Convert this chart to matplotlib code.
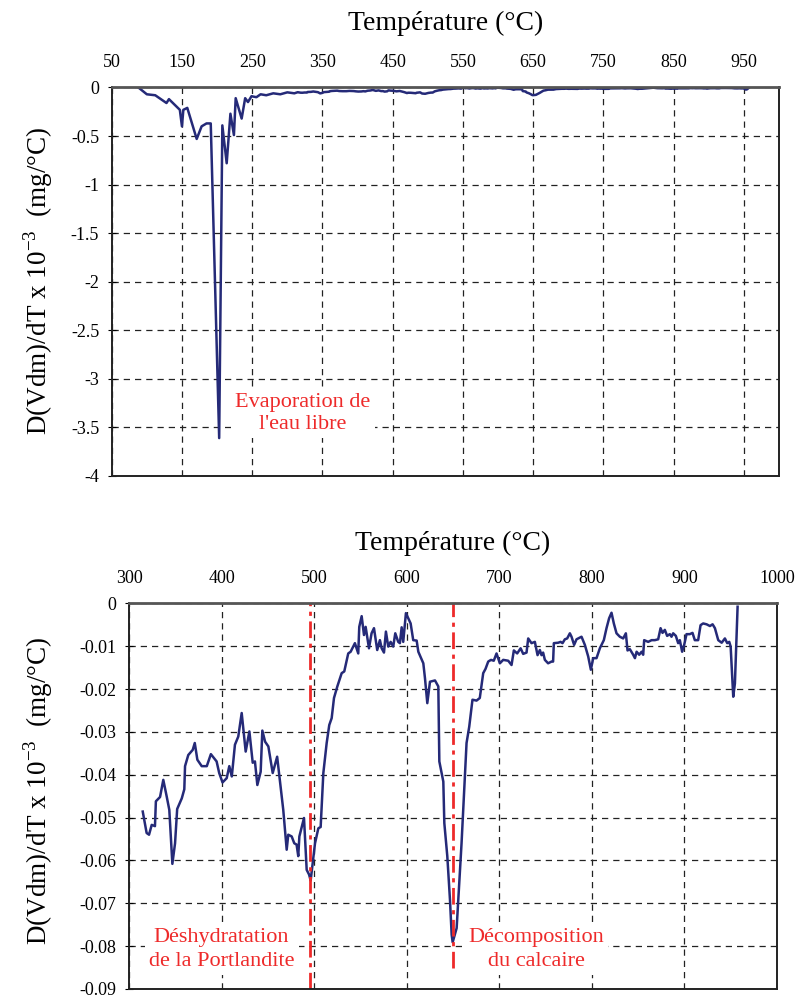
import matplotlib
matplotlib.use("Agg")
import matplotlib.pyplot as plt

plt.rcParams['font.family'] = ['Liberation Serif', 'DejaVu Serif']
plt.rcParams['mathtext.fontset'] = 'custom'
plt.rcParams['mathtext.rm'] = 'Liberation Serif'

# low temperature part
t_low = [88, 100, 112, 128, 131.5, 147, 150, 152, 157.6, 171, 178, 185, 191, 203,
         207.5, 213.7, 219, 224, 226.5, 235, 240, 244, 249, 256, 262, 270, 280,
         290, 300, 310]
d_low = [0, -0.07, -0.08, -0.16, -0.12, -0.23, -0.40, -0.23, -0.21, -0.53, -0.40,
         -0.37, -0.37, -3.61, -0.39, -0.78, -0.27, -0.49, -0.11, -0.32, -0.11,
         -0.15, -0.09, -0.10, -0.07, -0.08, -0.06, -0.07, -0.05, -0.06]

# high temperature part
t_high = [314.8, 319, 321.6, 324.5, 328, 329, 333.5, 337, 340.7, 343.5, 346.8, 349.7,
          352, 357, 359.7, 360.5, 364, 368.8, 371, 373.8, 378.5, 384, 388.4, 394.6,
          397.4, 401, 405.5, 408.3, 411, 414.4, 418, 421.7, 426, 430, 433.6, 436,
          438.6, 442.2, 444, 447, 450.5, 455.2, 460, 466.6, 470.3, 472, 475.7, 478.5,
          481, 482.8, 484, 489, 491.9, 494.5, 496.2, 500.9, 504.5, 507, 509.9, 513.5,
          516.3, 518.9, 521.4, 525, 529.7, 532.5, 536.8, 539.4, 544, 547.6, 548.7,
          551.3, 553.8, 555.6, 559.2, 562, 564.6, 568.1, 571, 572.9, 575.4, 577.5,
          580, 582.6, 585.4, 587.6, 590.8, 592.6, 594.5, 596.2, 599.1, 604.2, 607,
          610.7, 612.5, 617.9, 619.7, 622.2, 625.1, 630.5, 634.1, 635.2, 639.5,
          640.6, 643.8, 646.7, 648.5, 649.6, 653.9, 659.2, 664.6, 667.5, 671, 675.4,
          678.9, 682.6, 685.1, 688, 691, 694, 697, 700.6, 704.2, 709.6, 713.2, 715.7,
          719.3, 723, 725.8, 729.4, 731.2, 734.8, 738.4, 741.3, 743.8, 745.6, 747.3,
          749.2, 752.7, 756.4, 758.1, 758.9, 763.6, 766.2, 768.3, 770.8, 773.3,
          776.2, 778, 780.8, 783.4, 788.8, 792.4, 796, 798.9, 801.4, 805, 808.6,
          812.9, 815.8, 818.6, 821.2, 823.7, 826.6, 830.2, 833.8, 836.7, 838.5, 841,
          844.6, 846.5, 848.3, 851.1, 853.7, 855.4, 856.5, 860.8, 864.5, 868, 871.6,
          874.2, 876.3, 878.8, 881.3, 884.2, 886, 887.8, 890.7, 893.2, 895, 897.5,
          899.7, 902.2, 905.8, 908.7, 911.2, 914.8, 917.4, 920.2, 923.9, 927.5,
          930.4, 932.9, 936.5, 940.2, 943.7, 946.2, 948.4, 949.9, 952.7, 954.5, 957.4]
d_high = [-0.0486, -0.0536, -0.054, -0.0517, -0.052, -0.0462, -0.0452, -0.0412, -0.0451,
          -0.0482, -0.0608, -0.056, -0.048, -0.0455, -0.0434, -0.038, -0.0354, -0.0342,
          -0.0326, -0.0365, -0.038, -0.038, -0.0352, -0.0369, -0.0396, -0.0418, -0.0408,
          -0.038, -0.0404, -0.033, -0.0311, -0.0256, -0.0346, -0.0299, -0.0372, -0.0369,
          -0.0424, -0.0393, -0.0297, -0.0323, -0.0334, -0.0396, -0.0358, -0.0482,
          -0.0575, -0.054, -0.0544, -0.056, -0.0563, -0.059, -0.0544, -0.0501, -0.0622,
          -0.0633, -0.0647, -0.056, -0.0525, -0.0522, -0.0396, -0.0326, -0.0284,
          -0.0268, -0.0221, -0.0194, -0.0163, -0.0159, -0.0117, -0.0113, -0.0093,
          -0.0117, -0.0055, -0.003, -0.0074, -0.0055, -0.0105, -0.007, -0.0058, -0.0109,
          -0.0086, -0.0105, -0.0115, -0.0066, -0.0101, -0.009, -0.0101, -0.007, -0.009,
          -0.0093, -0.0056, -0.009, -0.0023, -0.0047, -0.0086, -0.0087, -0.0113, -0.014,
          -0.0175, -0.0233, -0.0183, -0.018, -0.0194, -0.0369, -0.0416, -0.0513,
          -0.059, -0.0692, -0.0773, -0.0791, -0.0758, -0.056, -0.0326, -0.0288,
          -0.0225, -0.0227, -0.0221, -0.0163, -0.0153, -0.0136, -0.0132, -0.0134,
          -0.0117, -0.014, -0.0132, -0.0134, -0.0144, -0.011, -0.0117, -0.0105, -0.0118,
          -0.0115, -0.0082, -0.0093, -0.009, -0.0121, -0.0109, -0.0121, -0.0115, -0.0132,
          -0.014, -0.0136, -0.0136, -0.0093, -0.0092, -0.009, -0.0093, -0.0084, -0.0082,
          -0.007, -0.0078, -0.0097, -0.0084, -0.0078, -0.0097, -0.0124, -0.0155,
          -0.0128, -0.0128, -0.0105, -0.0086, -0.0058, -0.0035, -0.0022, -0.0047,
          -0.007, -0.0078, -0.0082, -0.007, -0.011, -0.0107, -0.012, -0.0128, -0.0113,
          -0.012, -0.0113, -0.012, -0.0086, -0.009, -0.0086, -0.0086, -0.0084, -0.0058,
          -0.0069, -0.0062, -0.0076, -0.0072, -0.0078, -0.007, -0.0076, -0.0093,
          -0.0086, -0.0113, -0.0097, -0.0072, -0.0072, -0.0069, -0.0086, -0.0086,
          -0.0051, -0.0047, -0.0049, -0.0053, -0.0049, -0.0058, -0.0086, -0.0092,
          -0.0082, -0.0093, -0.009, -0.0101, -0.0218, -0.0187, -0.0008]

top_xticks = [50, 150, 250, 350, 450, 550, 650, 750, 850, 950]
top_yticks = [0, -0.5, -1, -1.5, -2, -2.5, -3, -3.5, -4]
bot_xticks = [300, 400, 500, 600, 700, 800, 900, 1000]
bot_yticks = [0, -0.01, -0.02, -0.03, -0.04, -0.05, -0.06, -0.07, -0.08, -0.09]

events = [495, 650]
event_bottoms = [-0.09, -0.085]
labels_top = ["Evaporation de\nl'eau libre"]
labels_bot = ["Déshydratation\nde la Portlandite", "Décomposition\ndu calcaire"]

navy = '#252a78'
red = '#ee2a2a'
ylab = 'D(Vdm)/dT x 10$^{-3}$  (mg/°C)'
box = dict(facecolor='white', edgecolor='none', pad=3)


def style(ax, pad):
    ax.xaxis.tick_top()
    ax.xaxis.set_label_position('top')
    ax.grid(True, color='#222222', linestyle=(0, (5, 4)), linewidth=0.9)
    ax.tick_params(axis='x', length=0, labelsize=13, pad=12)
    ax.tick_params(axis='y', direction='inout', length=6, labelsize=13, pad=6)
    for s in ax.spines.values():
        s.set_linewidth(1.4)
        s.set_color('#222222')
    ax.spines['top'].set_color('#555555')
    ax.spines['top'].set_linewidth(2)
    ax.set_xlabel('Température (°C)', fontsize=20, labelpad=pad)
    ax.yaxis.set_major_formatter(plt.FuncFormatter(lambda v, p: '0' if v == 0 else ('%g' % v)))


fig = plt.figure(figsize=(7.99, 10.01), dpi=100)

ax1 = fig.add_axes([0.1398, 0.5245, 0.975 - 0.1398, 0.9126 - 0.5245])
ax1.plot(t_low + t_high, d_low + d_high, color=navy, linewidth=1.8)
ax1.set_xlim(50, 1000)
ax1.set_ylim(-4, 0)
ax1.set_xticks(top_xticks)
ax1.set_yticks(top_yticks)
style(ax1, 17)
ax1.text(322, -3.355, labels_top[0], color=red, fontsize=16, ha='center', va='center',
         linespacing=1.25, bbox=box)
fig.text(0.048, 0.72, ylab, rotation=90, fontsize=19.5, ha='center', va='center')

ax2 = fig.add_axes([0.1615, 0.012, 0.9725 - 0.1615, 0.3973 - 0.012])
ax2.plot(t_high, d_high, color=navy, linewidth=1.8)
for ev, lo in zip(events, event_bottoms):
    ax2.plot([ev, ev], [lo, 0], color=red, linestyle=(0, (6, 2, 1.5, 2)), linewidth=2)
ax2.set_xlim(300, 1000)
ax2.set_ylim(-0.09, 0)
ax2.set_xticks(bot_xticks)
ax2.set_yticks(bot_yticks)
style(ax2, 14)
ax2.text(400, -0.0808, labels_bot[0], color=red, fontsize=16, ha='center', va='center',
         linespacing=1.35, bbox=box)
ax2.text(740, -0.0808, labels_bot[1], color=red, fontsize=16, ha='center', va='center',
         linespacing=1.35, bbox=box)
fig.text(0.048, 0.21, ylab, rotation=90, fontsize=19.5, ha='center', va='center')

fig.savefig('out.png', dpi=100)
